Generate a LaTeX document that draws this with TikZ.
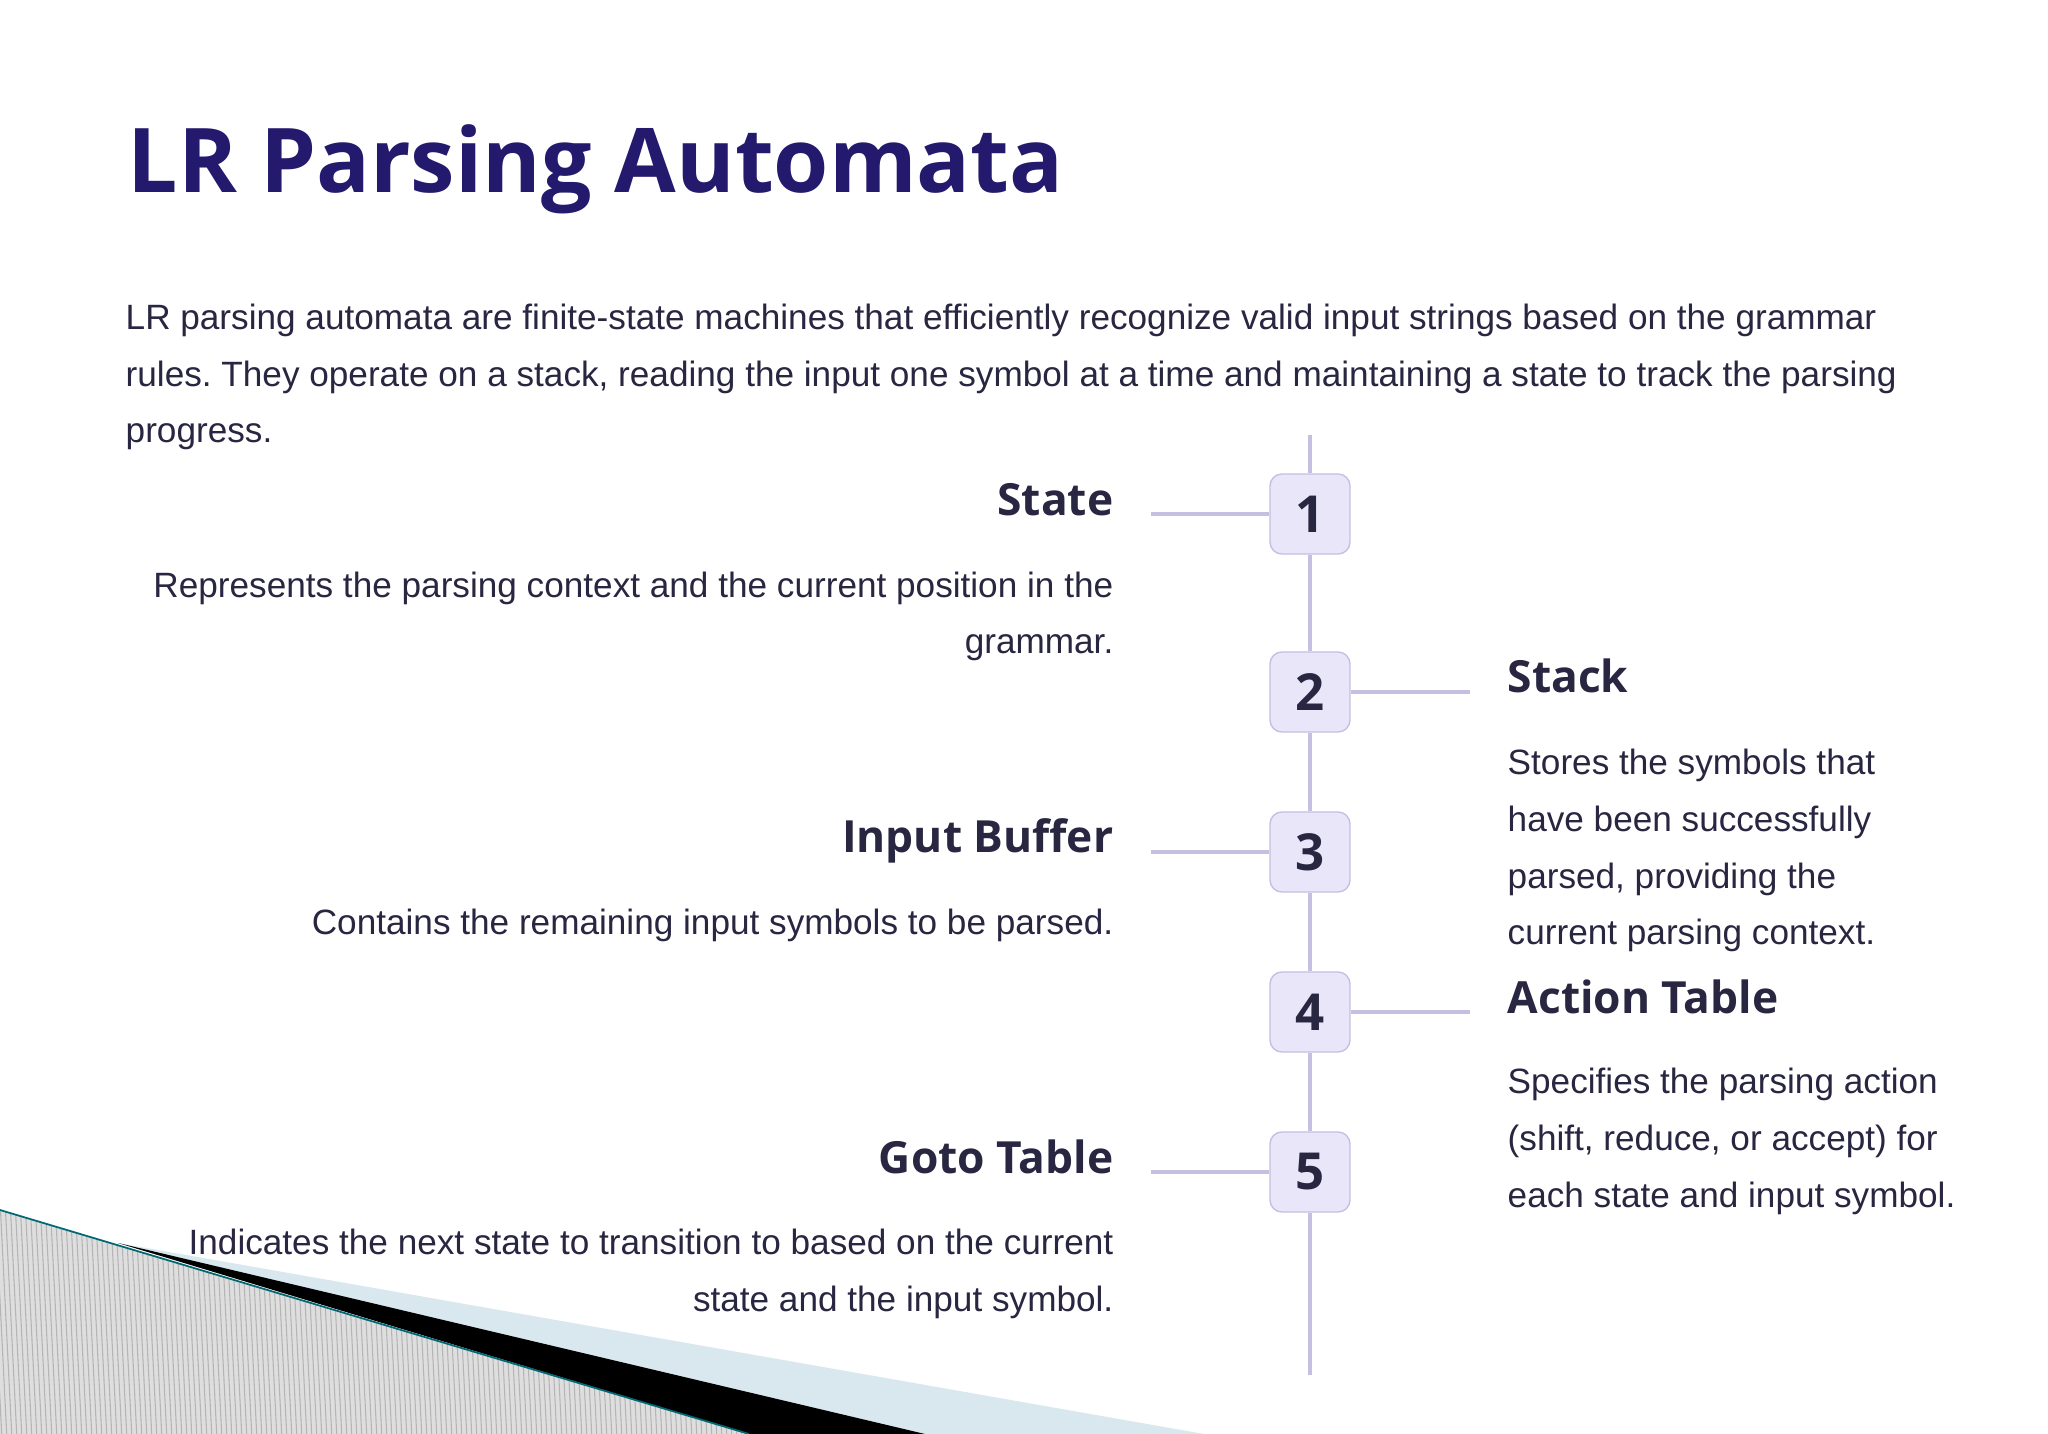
\documentclass[tikz,border=0pt]{standalone}
\usepackage{fontspec}
\setmainfont{Liberation Sans}
\newfontfamily\headfont{Open Sans}
\frenchspacing
\definecolor{titlec}{RGB}{35,26,110}
\definecolor{ink}{RGB}{40,38,64}
\definecolor{lav}{RGB}{197,192,226}
\definecolor{boxfill}{RGB}{232,230,248}
\definecolor{paleblue}{RGB}{216,232,238}
\definecolor{tealc}{RGB}{0,105,115}
\definecolor{hatchbg}{RGB}{222,222,222}
\definecolor{hatchln}{RGB}{180,180,180}
\begin{document}
\begin{tikzpicture}[x=0.01cm,y=-0.01cm,
  txt/.style={font=\fontsize{10}{16.2}\selectfont, text=ink, inner sep=0pt},
  headtxt/.style={font=\headfont\bfseries\fontsize{12.6}{15}\selectfont, text=ink, inner sep=0pt},
  numbox/.style={draw=lav, fill=boxfill, line width=0.4pt, rounded corners=0.12cm,
    minimum width=0.8cm, minimum height=0.8cm, inner sep=0pt,
    font=\headfont\bfseries\fontsize{14.5}{16}\selectfont, text=ink},
  conn/.style={draw=lav, line width=1pt}]
\useasboundingbox (0,0) rectangle (2048,1434);
\fill[white] (0,0) rectangle (2048,1434);

% bottom-left decoration
\begin{scope}
  \clip (0,1210) -- (749,1434) -- (0,1434) -- cycle;
  \fill[hatchbg] (0,1200) rectangle (760,1440);
  \foreach \x in {-30,-25,...,760} \draw[hatchln, line width=0.3pt] (\x,1200) -- (\x+12,1440);
\end{scope}
\fill[paleblue] (118,1243) -- (1204,1434) -- (749,1434) -- cycle;
\fill[black] (118,1243) -- (925,1434) -- (749,1434) -- cycle;
\draw[tealc, line width=0.5pt] (0,1210) -- (749,1434);

% title and intro (multi-line nodes anchored at the baseline of their last line)
\node[anchor=base west, inner sep=0pt, text=titlec, font=\headfont\bfseries\fontsize{25.4}{30}\selectfont] (title) at (127,193) {LR Parsing Automata};
\node[txt, anchor=base west, align=left] (intro) at (125,443)
  {LR parsing automata are finite-state machines that efficiently recognize valid input strings based on the grammar\\
   rules. They operate on a stack, reading the input one symbol at a time and maintaining a state to track the parsing\\
   progress.};

% timeline
\coordinate (top) at (1310,435);
\coordinate (bot) at (1310,1375);
\node[numbox] (b1) at (1310,514) {1};
\node[numbox] (b2) at (1310,692) {2};
\node[numbox] (b3) at (1310,852) {3};
\node[numbox] (b4) at (1310,1012) {4};
\node[numbox] (b5) at (1310,1172) {5};
\draw[conn] (top) -- (b1);
\draw[conn] (b1) -- (b2);
\draw[conn] (b2) -- (b3);
\draw[conn] (b3) -- (b4);
\draw[conn] (b4) -- (b5);
\draw[conn] (b5) -- (bot);

\coordinate (l1) at (1151,514);
\coordinate (l3) at (1151,852);
\coordinate (l5) at (1151,1172);
\coordinate (r2) at (1470,692);
\coordinate (r4) at (1470,1012);
\draw[conn] (l1) -- (b1);
\draw[conn] (l3) -- (b3);
\draw[conn] (l5) -- (b5);
\draw[conn] (b2) -- (r2);
\draw[conn] (b4) -- (r4);

% left items
\node[headtxt, anchor=base east] (h1) at (1114,516) {State};
\node[txt, anchor=base east, align=right] (d1) at (1114,654)
  {Represents the parsing context and the current position in the\\ grammar.};
\node[headtxt, anchor=base east] (h3) at (1114,853) {Input Buffer};
\node[txt, anchor=base east, align=right] (d3) at (1114,935)
  {Contains the remaining input symbols to be parsed.};
\node[headtxt, anchor=base east] (h5) at (1114,1173) {Goto Table};
\node[txt, anchor=base east, align=right] (d5) at (1114,1311)
  {Indicates the next state to transition to based on the current\\ state and the input symbol.};

% right items
\node[headtxt, anchor=base west] (h2) at (1507,693) {Stack};
\node[txt, anchor=base west, align=left] (d2) at (1507,945)
  {Stores the symbols that\\ have been successfully\\ parsed, providing the\\ current parsing context.};
\node[headtxt, anchor=base west] (h4) at (1507,1013) {Action Table};
\node[txt, anchor=base west, align=left] (d4) at (1507,1207)
  {Specifies the parsing action\\ (shift, reduce, or accept) for\\ each state and input symbol.};
\end{tikzpicture}
\end{document}
